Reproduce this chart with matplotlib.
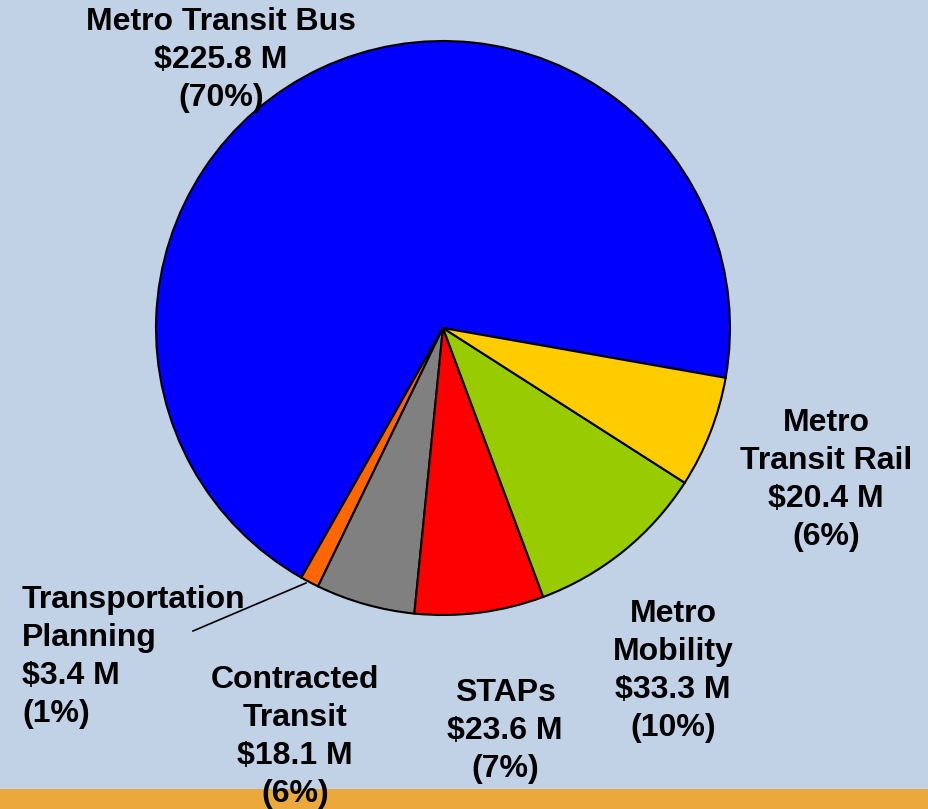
import matplotlib.pyplot as plt
from matplotlib.patches import Rectangle

names = ['Metro Transit Bus', 'Transportation\nPlanning', 'Contracted\nTransit', 'STAPs',
         'Metro\nMobility', 'Metro\nTransit Rail']
amounts = [225.8, 3.4, 18.1, 23.6, 33.3, 20.4]
colors = ['#0000FF', '#FF6600', '#808080', '#FF0000', '#99CC00', '#FFCC00']

W, H = 929, 809
CX, CY, R = 443, 328, 287

def px(x, y):
    return (x - CX) / R, (CY - y) / R

fig = plt.figure(figsize=(W / 100, H / 100), dpi=100, facecolor='#C1D1E6')
fig.patches.append(Rectangle((0, 0), 1, 20 / H, transform=fig.transFigure,
                             facecolor='#EBA93C', edgecolor='none', zorder=0))

ax = fig.add_axes([0, 0, 1, 1], zorder=2)
ax.set_facecolor('none')
ax.axis('off')

ax.pie(amounts, colors=colors, startangle=-10, counterclock=True, radius=1,
       wedgeprops=dict(edgecolor='black', linewidth=1.5))
ax.set_xlim(-CX / R, (W - CX) / R)
ax.set_ylim(-(H - CY) / R, CY / R)
ax.set_aspect('equal')

total = sum(amounts)
labels = [f'{n}\n\\${a:.1f} M\n({round(a / total * 100)}%)' for n, a in zip(names, amounts)]

# label centres in pixel coords
spots = [(221, 60, 'center'), (22, 657, 'left'), (295, 737, 'center'), (505, 731, 'center'),
         (673, 671, 'center'), (826, 480, 'center')]
for lab, (x, y, ha) in zip(labels, spots):
    tx, ty = px(x, y)
    ax.text(tx, ty, lab, ha=ha, va='center', fontsize=23, fontweight='bold',
            family='Liberation Sans', linespacing=1.35, multialignment='center' if ha == 'center' else 'left')

x0, y0 = px(193, 631)
x1, y1 = px(306, 583)
ax.plot([x0, x1], [y0, y1], color='black', linewidth=1.2)

fig.savefig('out.png', dpi=100, facecolor=fig.get_facecolor())
